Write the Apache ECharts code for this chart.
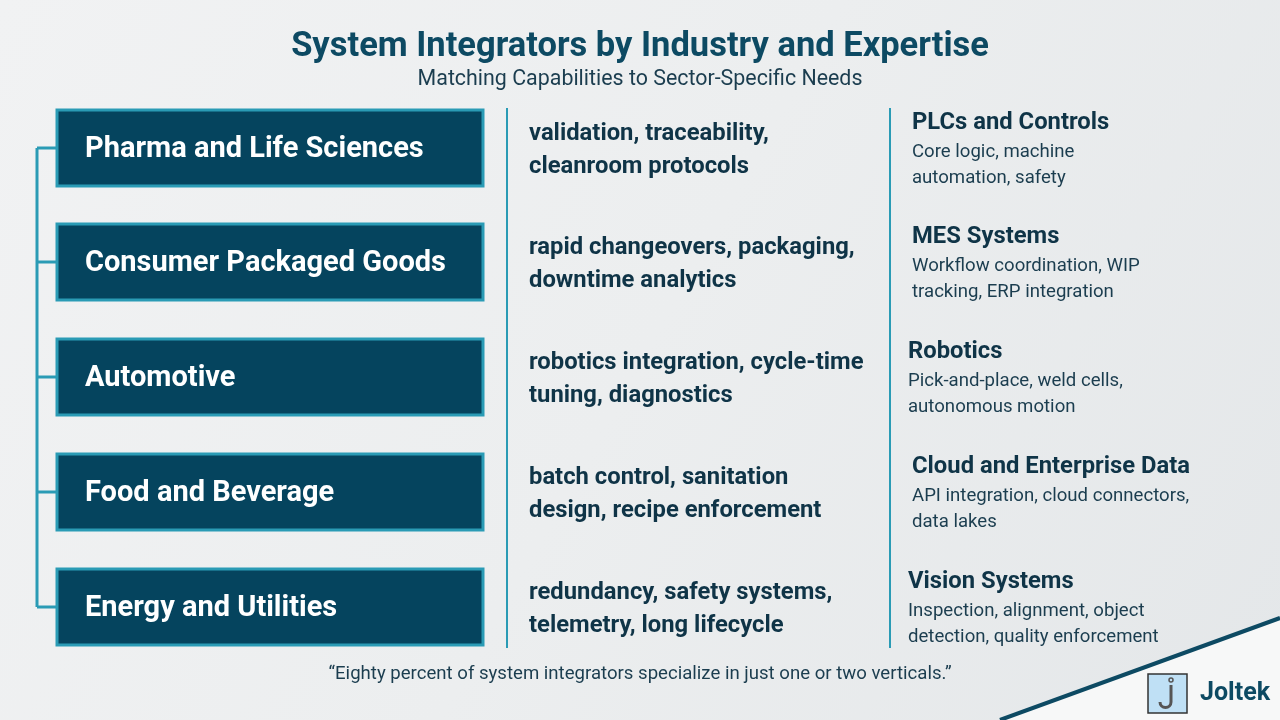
<!DOCTYPE html>
<html><head><meta charset="utf-8">
<script src="https://cdn.jsdelivr.net/npm/echarts@6/dist/echarts.min.js"></script>
<style>html,body{margin:0;padding:0;}#c{width:1280px;height:720px;}</style>
</head><body><div id="c"></div>
<script>
const industries = ["Pharma and Life Sciences","Consumer Packaged Goods","Automotive","Food and Beverage","Energy and Utilities"];
const needs = [["validation, traceability,","cleanroom protocols"],["rapid changeovers, packaging,","downtime analytics"],["robotics integration, cycle-time","tuning, diagnostics"],["batch control, sanitation","design, recipe enforcement"],["redundancy, safety systems,","telemetry, long lifecycle"]];
const expertiseTitles = ["PLCs and Controls","MES Systems","Robotics","Cloud and Enterprise Data","Vision Systems"];
const expertiseDesc = [["Core logic, machine","automation, safety"],["Workflow coordination, WIP","tracking, ERP integration"],["Pick-and-place, weld cells,","autonomous motion"],["API integration, cloud connectors,","data lakes"],["Inspection, alignment, object","detection, quality enforcement"]];
const titleText = "System Integrators by Industry and Expertise";
const subtitleText = "Matching Capabilities to Sector-Specific Needs";
const quoteText = "\u201cEighty percent of system integrators specialize in just one or two verticals.\u201d";

const F = 'Roboto, "Noto Sans", sans-serif';
const g = [];
g.push({type:'rect',shape:{x:0,y:0,width:1280,height:720},style:{fill:new echarts.graphic.LinearGradient(0,0,1,1,[{offset:0,color:'#f1f2f3'},{offset:0.5,color:'#eceeef'},{offset:1,color:'#e4e7e9'}])},silent:true});
g.push({type:'polygon',shape:{points:[[1000,720],[1280,618],[1280,720]]},style:{fill:'#f7f8f8'}});
g.push({type:'line',shape:{x1:1000,y1:720,x2:1280,y2:618},style:{stroke:'#0d4a63',lineWidth:4}});
g.push({type:'text',x:640,y:47,style:{text:titleText,font:'bold 34.5px '+F,fill:'#0d4a63',align:'center',verticalAlign:'middle'}});
g.push({type:'text',x:640,y:80,style:{text:subtitleText,font:'21.4px '+F,fill:'#1b3d4f',align:'center',verticalAlign:'middle'}});
const cy = [148,262,377,492,607];
g.push({type:'line',shape:{x1:37,y1:cy[0],x2:37,y2:cy[4]},style:{stroke:'#2a9bb5',lineWidth:3}});
g.push({type:'line',shape:{x1:507,y1:108,x2:507,y2:648},style:{stroke:'#2a9bb5',lineWidth:2}});
g.push({type:'line',shape:{x1:890,y1:108,x2:890,y2:648},style:{stroke:'#2a9bb5',lineWidth:2}});
const ex = [912,912,908,912,908];
industries.forEach((name,i)=>{
  const y=cy[i];
  g.push({type:'line',shape:{x1:37,y1:y,x2:57,y2:y},style:{stroke:'#2a9bb5',lineWidth:3}});
  g.push({type:'rect',shape:{x:57,y:y-38,width:426,height:76},style:{fill:'#05445e',stroke:'#2a9bb5',lineWidth:3}});
  g.push({type:'text',x:85,y:y+2,style:{text:name,font:'bold 29px '+F,fill:'#ffffff',verticalAlign:'middle'}});
  g.push({type:'text',x:529,y:y-14,style:{text:needs[i][0],font:'bold 23.8px '+F,fill:'#0f3447',verticalAlign:'middle'}});
  g.push({type:'text',x:529,y:y+19,style:{text:needs[i][1],font:'bold 23.8px '+F,fill:'#0f3447',verticalAlign:'middle'}});
  g.push({type:'text',x:ex[i],y:y-25,style:{text:expertiseTitles[i],font:'bold 23.8px '+F,fill:'#0f3447',verticalAlign:'middle'}});
  g.push({type:'text',x:ex[i],y:y+4,style:{text:expertiseDesc[i][0],font:'18.6px '+F,fill:'#1b3d4f',verticalAlign:'middle'}});
  g.push({type:'text',x:ex[i],y:y+30,style:{text:expertiseDesc[i][1],font:'18.6px '+F,fill:'#1b3d4f',verticalAlign:'middle'}});
});
g.push({type:'text',x:640,y:674,style:{text:quoteText,font:'18.6px '+F,fill:'#1b3d4f',align:'center',verticalAlign:'middle'}});
// logo
g.push({type:'rect',shape:{x:1148,y:674,width:39,height:39},style:{fill:'#bfe0f5',stroke:'#333',lineWidth:1.5}});
g.push({type:'polyline',shape:{points:[[1171,685],[1171,702]]},style:{fill:'none',stroke:'#555',lineWidth:3}});
g.push({type:'arc',shape:{cx:1165.5,cy:702,r:5.5,startAngle:0,endAngle:Math.PI,clockwise:true},style:{fill:'none',stroke:'#555',lineWidth:3}});
g.push({type:'circle',shape:{cx:1171,cy:680,r:2},style:{fill:'none',stroke:'#555',lineWidth:1.5}});
g.push({type:'text',x:1200,y:694,style:{text:'Joltek',font:'bold 25px '+F,fill:'#0d4a63',verticalAlign:'middle'}});
const chart = echarts.init(document.getElementById('c'));
chart.setOption({animation:false,graphic:{elements:g}});
</script></body></html>
